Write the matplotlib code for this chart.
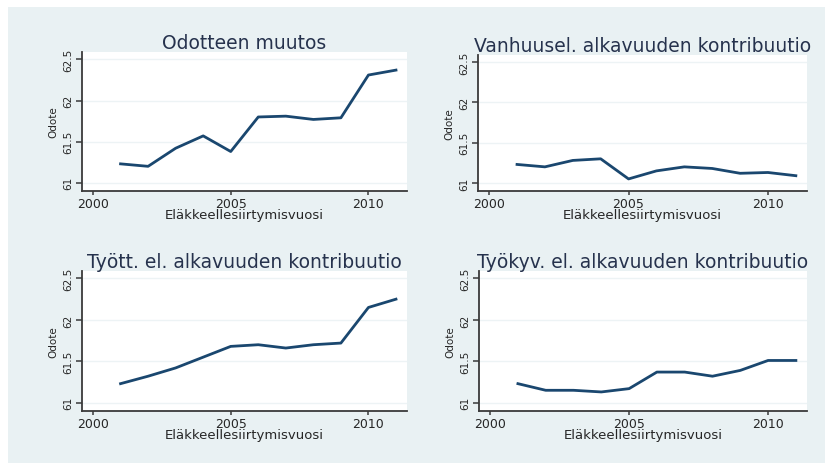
import matplotlib
matplotlib.use("Agg")
import matplotlib.pyplot as plt
from matplotlib.patches import Rectangle

years = [2001, 2002, 2003, 2004, 2005, 2006, 2007, 2008, 2009, 2010, 2011]
odotteen_muutos = [61.23, 61.20, 61.42, 61.57, 61.38, 61.80, 61.81, 61.77, 61.79, 62.31, 62.37]
vanhuusel = [61.23, 61.20, 61.28, 61.30, 61.05, 61.15, 61.20, 61.18, 61.12, 61.13, 61.09]
tyott = [61.23, 61.32, 61.42, 61.55, 61.68, 61.70, 61.66, 61.70, 61.72, 62.15, 62.25]
tyokyv = [61.23, 61.15, 61.15, 61.13, 61.17, 61.37, 61.37, 61.32, 61.39, 61.51, 61.51]

titles = ["Odotteen muutos", "Vanhuusel. alkavuuden kontribuutio",
          "Tyött. el. alkavuuden kontribuutio", "Työkyv. el. alkavuuden kontribuutio"]
series = [odotteen_muutos, vanhuusel, tyott, tyokyv]
xticks = [2000, 2005, 2010]
yticks = [61, 61.5, 62, 62.5]
ytick_labels = ["61", "61.5", "62", "62.5"]
xlabel = "Eläkkeellesiirtymisvuosi"
ylabel = "Odote"

W, H = 825, 464
fig = plt.figure(figsize=(W / 100, H / 100), dpi=100, facecolor="white")
plt.rcParams["font.family"] = ["DejaVu Sans"]

bg = "#E9F1F3"
fig.patches.append(Rectangle((8 / W, 0), 1 - 8 / W, 1 - 8 / H, transform=fig.transFigure,
                             facecolor=bg, edgecolor="none", zorder=-10))

# pixel boxes: left, right, top, bottom
boxes = [(82, 407, 53, 192), (478, 807, 56, 192), (82, 407, 272, 412), (479, 807, 272, 412)]
line_color = "#1A476F"
text_color = "#26324D"
label_color = "#262626"
axis_color = "#3A3A3A"

for (l, r, t, b), title, vals in zip(boxes, titles, series):
    ax = fig.add_axes([l / W, 1 - b / H, (r - l) / W, (b - t) / H])
    ax.set_facecolor("white")
    ax.plot(years, vals, color=line_color, lw=2.0, solid_joinstyle="round")
    ax.set_xlim(1999.6, 2011.4)
    ax.set_ylim(60.9, 62.59)
    ax.set_xticks(xticks)
    ax.set_yticks(yticks)
    ax.set_yticklabels(ytick_labels, rotation=90, va="center")
    for y in yticks:
        ax.axhline(y, color="#EDF3F5", lw=1.0, zorder=0)
    for s in ["top", "right"]:
        ax.spines[s].set_visible(False)
    for s in ["left", "bottom"]:
        ax.spines[s].set_color(axis_color)
        ax.spines[s].set_linewidth(1.3)
    ax.tick_params(axis="x", direction="out", length=3, width=1.1, color=axis_color,
                   labelsize=9, labelcolor=label_color, pad=1)
    ax.tick_params(axis="y", direction="out", length=4, width=1.1, color=axis_color,
                   labelsize=7.5, labelcolor=label_color, pad=2)
    ax.set_xlabel(xlabel, fontsize=9.5, color=label_color, labelpad=-1)
    ax.set_ylabel(ylabel, fontsize=7.5, color=label_color, labelpad=4)
    ax.set_title(title, fontsize=13.5, color=text_color, pad=3)

fig.savefig("out.png", dpi=100, facecolor="white")
